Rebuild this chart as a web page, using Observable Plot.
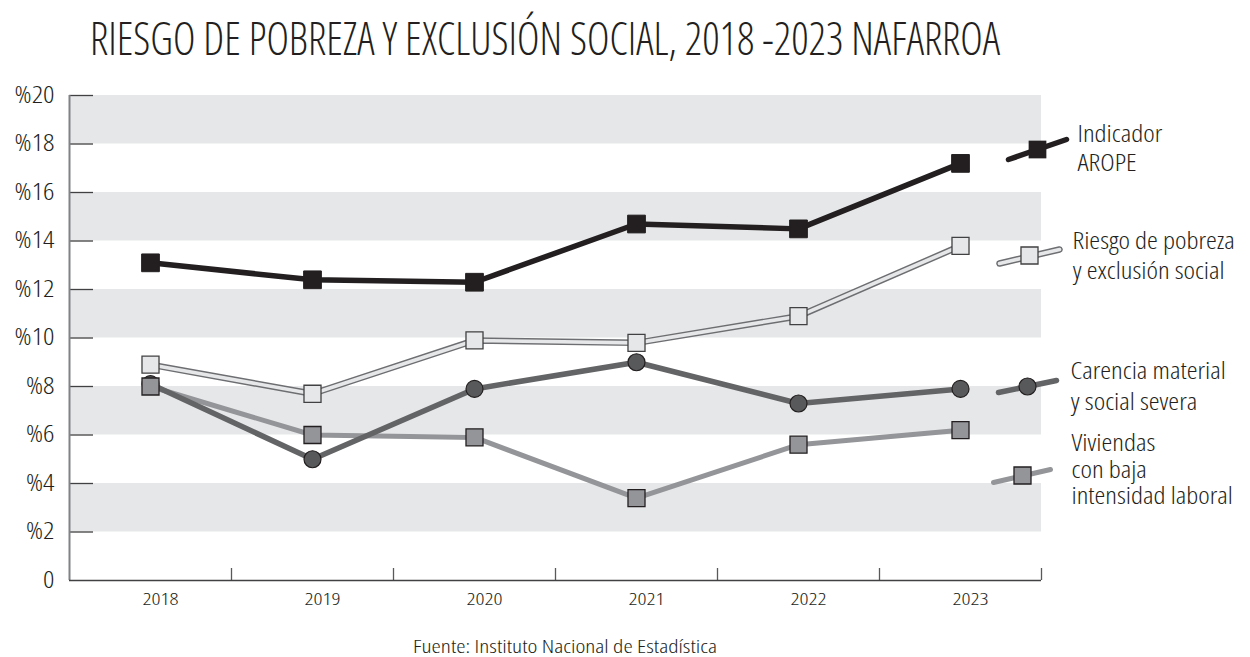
<!DOCTYPE html>
<html><head><meta charset="utf-8">
<script src="https://cdn.jsdelivr.net/npm/d3@7"></script>
<script src="https://cdn.jsdelivr.net/npm/@observablehq/plot@0.6"></script>
<style>
body{margin:0;background:#fff;}
#wrap{position:relative;width:1250px;height:657px;overflow:hidden;color:#231f20;}
#title{position:absolute;left:90px;top:6px;font-size:46px;font-weight:300;white-space:nowrap;transform-origin:0 0;}
#chart{position:absolute;left:0;top:80px;}
#caption{position:absolute;left:565px;top:637px;font-size:18px;line-height:18px;font-weight:340;white-space:nowrap;transform-origin:0 0;}
</style></head>
<body><div id="wrap"><div id="title">RIESGO DE POBREZA Y EXCLUSIÓN SOCIAL, 2018 -2023 NAFARROA</div><div id="chart"></div><div id="caption">Fuente: Instituto Nacional de Estadística</div></div>
<script>
// ---- data ----
const years = [2018, 2019, 2020, 2021, 2022, 2023];
const arope = [13.1, 12.4, 12.3, 14.7, 14.5, 17.2];
const riesgo = [8.9, 7.7, 9.9, 9.8, 10.9, 13.8];
const carencia = [8.1, 5.0, 7.9, 9.0, 7.3, 7.9];
const viviendas = [8.0, 6.0, 5.9, 3.4, 5.6, 6.2];
const yTicks = [0, 2, 4, 6, 8, 10, 12, 14, 16, 18, 20];
const yTickLabels = ["0", "%2", "%4", "%6", "%8", "%10", "%12", "%14", "%16", "%18", "%20"];
const bands = [[2, 4], [6, 8], [10, 12], [14, 16], [18, 20]];
const legendLabels = {
  arope: ["Indicador", "AROPE"],
  riesgo: ["Riesgo de pobreza", "y exclusión social"],
  carencia: ["Carencia material", "y social severa"],
  viviendas: ["Viviendas", "con baja", "intensidad laboral"]
};

// ---- font detection ----
function measure(style){const s=document.createElement('span');s.style.cssText='position:absolute;visibility:hidden;white-space:nowrap;font-size:40px;'+style;s.textContent='Riesgo de pobreza y exclusión social';document.body.appendChild(s);const r=s.getBoundingClientRect().width;s.remove();return r;}
const osN = measure('font-family:"Open Sans"');
const osC = measure('font-family:"Open Sans";font-stretch:75%');
const condensed = osC < osN * 0.93;
let FONT, STRETCH;
if (condensed) { FONT = '"Open Sans", sans-serif'; STRETCH = '75%'; }
else { FONT = '"Liberation Sans Narrow", "DejaVu Sans Condensed", sans-serif'; STRETCH = 'normal'; }
document.getElementById('wrap').style.fontFamily = FONT;
document.getElementById('wrap').style.fontStretch = STRETCH;

// ---- layout ----
const W = 1250, H = 540, mL = 69, mR = 209, mT = 15, mB = 40;
const fw = W - mL - mR, fh = H - mT - mB;
const xDomain = [2017.5, 2023.5], yDomain = [0, 20];
const X = px => xDomain[0] + (px - mL) / fw * (xDomain[1] - xDomain[0]);
const Y = py => yDomain[1] - (py - mT) / fh * (yDomain[1] - yDomain[0]);

const mk = vals => years.map((y, i) => ({year: y, value: vals[i]}));
const dA = mk(arope), dR = mk(riesgo), dC = mk(carencia), dV = mk(viviendas);

// legend layout (svg pixel coords)
const LG = {
  arope:    {m: [1037, 69],  s: [1008, 79, 1066, 59],  tx: 1077, ty: [54, 83]},
  riesgo:   {m: [1029, 175], s: [999, 183, 1059, 169], tx: 1072, ty: [161, 191]},
  carencia: {m: [1027, 306], s: [998, 312, 1056, 300], tx: 1070, ty: [291, 322]},
  viviendas:{m: [1022, 395], s: [993, 402, 1050, 389], tx: 1071, ty: [363, 390, 416]}
};
const seg = k => [{x1: X(LG[k].s[0]), y1: Y(LG[k].s[1]), x2: X(LG[k].s[2]), y2: Y(LG[k].s[3])}];
const mark = k => [{x: X(LG[k].m[0]), y: Y(LG[k].m[1])}];
const legendText = Object.keys(legendLabels).flatMap(k => legendLabels[k].map((t, i) => ({t, x: X(LG[k].tx), y: Y(LG[k].ty[i])})));

const sqR = 9.6;
const chart = Plot.plot({
  width: W, height: H, marginLeft: mL, marginRight: mR, marginTop: mT, marginBottom: mB,
  style: {fontFamily: FONT, fontStretch: STRETCH, fontWeight: 340, color: "#231f20", background: "transparent", overflow: "visible"},
  x: {domain: xDomain}, y: {domain: yDomain},
  marks: [
    Plot.rect(bands, {x1: xDomain[0], x2: xDomain[1], y1: d => d[0], y2: d => d[1], fill: "#e6e7e8"}),
    Plot.ruleY(yTicks.slice(1), {stroke: "#414042", strokeWidth: 1.3, insetRight: fw - 24}),
    Plot.ruleX(years.map(y => y + 0.5), {stroke: "#58595b", strokeWidth: 1.3, insetTop: fh - 12}),
    Plot.ruleX([xDomain[0]], {stroke: "#808285", strokeWidth: 2}),
    Plot.ruleY([0], {stroke: "#414042", strokeWidth: 1.6}),
    Plot.axisY(yTicks, {tickSize: 0, tickPadding: 15, fontSize: 23, tickFormat: d => yTickLabels[yTicks.indexOf(d)]}),
    Plot.axisX(years, {tickSize: 0, tickPadding: 12, fontSize: 17, dx: 10, tickFormat: d => String(d)}),
    // viviendas line, carencia line
    Plot.line(dV, {x: "year", y: "value", stroke: "#939598", strokeWidth: 5}),
    Plot.line(dC, {x: "year", y: "value", stroke: "#636466", strokeWidth: 5.5}),
    Plot.dot(dC, {x: "year", y: "value", r: 8.5, fill: "#58595b", stroke: "#231f20", strokeWidth: 1.2}),
    Plot.dot(dV, {x: "year", y: "value", symbol: "square", r: sqR, fill: "#939598", stroke: "#231f20", strokeWidth: 1.3}),
    // riesgo double line
    Plot.line(dR, {x: "year", y: "value", stroke: "#6d6e71", strokeWidth: 6.5}),
    Plot.line(dR, {x: "year", y: "value", stroke: "#e6e7e8", strokeWidth: 3.6}),
    Plot.dot(dR, {x: "year", y: "value", symbol: "square", r: sqR, fill: "#e6e7e8", stroke: "#414042", strokeWidth: 1.3}),
    // arope
    Plot.line(dA, {x: "year", y: "value", stroke: "#231f20", strokeWidth: 5.5}),
    Plot.dot(dA, {x: "year", y: "value", symbol: "square", r: 10, fill: "#231f20", stroke: "#231f20", strokeWidth: 1}),
    // legend
    Plot.link(seg("arope"), {x1: "x1", y1: "y1", x2: "x2", y2: "y2", stroke: "#231f20", strokeWidth: 5.5, strokeLinecap: "round"}),
    Plot.dot(mark("arope"), {x: "x", y: "y", symbol: "square", r: 10, fill: "#231f20"}),
    Plot.link(seg("riesgo"), {x1: "x1", y1: "y1", x2: "x2", y2: "y2", stroke: "#6d6e71", strokeWidth: 6.5, strokeLinecap: "round"}),
    Plot.link(seg("riesgo"), {x1: "x1", y1: "y1", x2: "x2", y2: "y2", stroke: "#e6e7e8", strokeWidth: 3.6, strokeLinecap: "round"}),
    Plot.dot(mark("riesgo"), {x: "x", y: "y", symbol: "square", r: sqR, fill: "#e6e7e8", stroke: "#414042", strokeWidth: 1.3}),
    Plot.link(seg("carencia"), {x1: "x1", y1: "y1", x2: "x2", y2: "y2", stroke: "#636466", strokeWidth: 5.5, strokeLinecap: "round"}),
    Plot.dot(mark("carencia"), {x: "x", y: "y", r: 8.5, fill: "#58595b", stroke: "#231f20", strokeWidth: 1.2}),
    Plot.link(seg("viviendas"), {x1: "x1", y1: "y1", x2: "x2", y2: "y2", stroke: "#939598", strokeWidth: 5, strokeLinecap: "round"}),
    Plot.dot(mark("viviendas"), {x: "x", y: "y", symbol: "square", r: sqR, fill: "#939598", stroke: "#231f20", strokeWidth: 1.3}),
    Plot.text(legendText, {x: "x", y: "y", text: "t", textAnchor: "start", lineAnchor: "middle", fontSize: 23, fill: "#231f20"})
  ]
});
document.getElementById('chart').appendChild(chart);

// widen condensed glyphs slightly to match the reference's semi-condensed face
function widen(selector, factor) {
  chart.querySelectorAll(selector).forEach(t => {
    const w = t.getComputedTextLength();
    if (w > 0) { t.setAttribute('textLength', (w * factor).toFixed(1)); t.setAttribute('lengthAdjust', 'spacingAndGlyphs'); }
  });
}
if (condensed) {
  widen('g[aria-label="y-axis tick label"] text', 1.22);
  widen('g[aria-label="x-axis tick label"] text', 1.3);
  widen('g[aria-label="text"] text', 1.19);
}

// fit title and caption widths to the reference spans
const title = document.getElementById('title');
title.style.transform = `scaleX(${910 / title.getBoundingClientRect().width})`;
const cap = document.getElementById('caption');
const cw = cap.getBoundingClientRect().width;
cap.style.transform = `translateX(${-152}px) scaleX(${304 / cw})`;
</script>
</body></html>
